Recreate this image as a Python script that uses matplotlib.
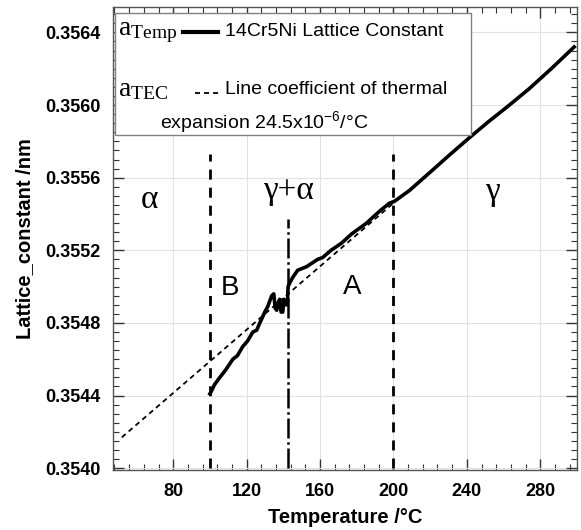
import matplotlib
matplotlib.use("Agg")
import matplotlib.pyplot as plt
from matplotlib.patches import Rectangle
from matplotlib.lines import Line2D
from matplotlib.ticker import MultipleLocator, FormatStrFormatter

temp = [100.0, 100.6, 102.5, 105.4, 108.5, 112.5, 115.0, 117.9, 120.5, 123.4,
        125.5, 127.2, 128.6, 129.9, 131.5, 132.6, 133.7, 134.8, 135.6, 136.4,
        137.2, 138.0, 138.8, 139.7, 140.3, 140.8, 141.4, 142.2, 142.6, 143.5,
        145.1, 147.8, 152.7, 158.7, 161.4, 166.0, 171.8, 177.2, 185.4, 188.6,
        193.0, 197.9, 200.6, 208.8, 220.0, 230.0, 241.4, 252.0, 262.0, 274.0,
        286.0, 298.5]
lattice = [0.35441, 0.35442, 0.35446, 0.35450, 0.35454, 0.35460, 0.35462, 0.35467,
           0.35470, 0.35475, 0.35476, 0.35480, 0.35483, 0.35486, 0.35489, 0.35492,
           0.35495, 0.35496, 0.35488, 0.35487, 0.35491, 0.35493, 0.35486, 0.35486,
           0.35493, 0.35492, 0.35490, 0.35490, 0.35500, 0.35502, 0.35505, 0.35509,
           0.35511, 0.35515, 0.35516, 0.35520, 0.35524, 0.35529, 0.35535, 0.35538,
           0.35542, 0.35546, 0.35547, 0.35553, 0.35563, 0.35572, 0.35582, 0.35591,
           0.35599, 0.35609, 0.35620, 0.35632]

# thermal expansion reference line (24.5e-6 /°C)
tec_temp = [52.0, 200.0]
tec_lattice = [0.35417, 0.35546]

# phase boundaries
boundary_temp = [100.0, 200.0]
boundary_top = 0.35573
split_temp = 142.5
split_top = 0.35537

# region annotations: (text, T, a, family)
regions = [
    ("\u03b1", 67.3, 0.35548, "serif"),
    ("\u03b3+\u03b1", 143.0, 0.35553, "serif"),
    ("\u03b3", 254.0, 0.35552, "serif"),
    ("B", 110.8, 0.35499, "sans"),
    ("A", 177.8, 0.35500, "sans"),
]

SANS = "Liberation Sans"
SERIF = "Liberation Serif"

plt.rcParams["font.family"] = [SANS, "DejaVu Sans"]

fig = plt.figure(figsize=(5.81, 5.30), dpi=100)
ax = fig.add_axes([0.1945, 0.1132, 0.7985, 0.8736])

ax.plot(temp, lattice, color="black", lw=2.6, solid_joinstyle="round", zorder=4)
ax.plot(tec_temp, tec_lattice, color="black", lw=1.3, linestyle=(0, (2.8, 2.2)), zorder=3)

ax.vlines(boundary_temp, 0.3540, boundary_top, color="black", lw=2.0,
          linestyles=[(0, (3.6, 2.9))], zorder=3)
ax.vlines([split_temp], 0.3540, split_top, color="black", lw=1.8,
          linestyles=[(0, (8, 1.5, 1, 1.5))], zorder=3)

for txt, x, y, fam in regions:
    if fam == "serif":
        ax.text(x, y, txt, family=SERIF, fontsize=24, ha="center", va="center")
    else:
        ax.text(x, y, txt, family=SANS, fontsize=20, ha="center", va="center")

ax.set_xlim(47.2, 300)
ax.set_ylim(0.35399, 0.35654)

ax.xaxis.set_major_locator(MultipleLocator(40))
ax.xaxis.set_minor_locator(MultipleLocator(8))
ax.yaxis.set_major_locator(MultipleLocator(0.0004))
ax.yaxis.set_minor_locator(MultipleLocator(0.00005))
ax.yaxis.set_major_formatter(FormatStrFormatter("%.4f"))

ax.tick_params(which="both", direction="in", top=True, right=True, color="#333333")
ax.tick_params(which="major", length=8, width=1.0, labelsize=13, pad=9)
ax.tick_params(which="minor", length=4, width=0.8)
for lab in ax.get_xticklabels() + ax.get_yticklabels():
    lab.set_fontweight("bold")

ax.grid(True, which="major", color="#e2e2e2", lw=0.8)
ax.set_axisbelow(True)
for sp in ax.spines.values():
    sp.set_color("#555555")
    sp.set_linewidth(1.0)

ax.set_xlabel("Temperature /\u00b0C", fontsize=14.5, fontweight="bold", labelpad=6)
ax.set_ylabel("Lattice_constant /nm", fontsize=14.5, fontweight="bold", labelpad=8)

# hand-built legend box
ax.add_patch(Rectangle((0.004, 0.7235), 0.768, 0.2645, transform=ax.transAxes,
                       facecolor="white", edgecolor="#808080", lw=1.0, zorder=5))
ax.text(0.011, 0.944, r"$\mathregular{a_{Temp}}$", transform=ax.transAxes,
        family=SERIF, fontsize=20, va="center", ha="left", zorder=6)
ax.add_line(Line2D([0.151, 0.226], [0.946, 0.946], transform=ax.transAxes,
                   color="black", lw=3.0, zorder=6))
ax.text(0.241, 0.946, "14Cr5Ni Lattice Constant", transform=ax.transAxes,
        fontsize=14, va="center", ha="left", zorder=6)
ax.text(0.011, 0.821, r"$\mathregular{a_{TEC}}$", transform=ax.transAxes,
        family=SERIF, fontsize=20, va="center", ha="left", zorder=6)
ax.add_line(Line2D([0.177, 0.231], [0.814, 0.814], transform=ax.transAxes,
                   color="black", lw=1.3, linestyle=(0, (2.8, 2.2)), zorder=6))
ax.text(0.241, 0.821, "Line coefficient of thermal", transform=ax.transAxes,
        fontsize=14, va="center", ha="left", zorder=6)
ax.text(0.101, 0.752, "expansion 24.5x10$\\mathregular{^{-6}}$/\u00b0C",
        transform=ax.transAxes, fontsize=14, va="center", ha="left", zorder=6)

fig.savefig("out.png", dpi=100)
